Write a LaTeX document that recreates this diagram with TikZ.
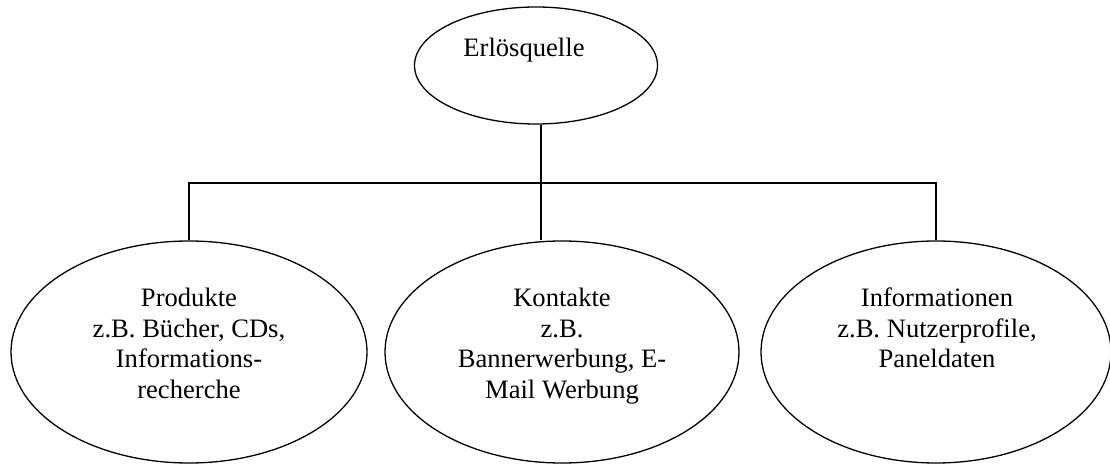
\documentclass[tikz,border=0pt]{standalone}
\usepackage{fontspec}
\setmainfont{Liberation Serif}
\usetikzlibrary{shapes.geometric}
\begin{document}
\begin{tikzpicture}[x=1bp,y=-1bp,
  oval/.style={draw=black, line width=1.3bp, ellipse, inner sep=0pt},
  lbl/.style={inner sep=0pt, align=center, anchor=base,
    font=\fontsize{26.6bp}{30.5bp}\selectfont},
  conn/.style={draw=black, line width=1.3bp}]
\useasboundingbox (0,0) rectangle (1110,475);
% ellipses
\node[oval, minimum width=243bp, minimum height=117bp] (top) at (536,65.5) {};
\node[oval, minimum width=356bp, minimum height=222bp] (left) at (189,352) {};
\node[oval, minimum width=354bp, minimum height=222bp] (mid) at (562,352) {};
\node[oval, minimum width=350bp, minimum height=222bp] (right) at (936,352) {};
% texts (base anchor = last line's baseline)
\node[lbl] (ttop) at (524,57) {Erlösquelle};
\node[lbl] (tleft) at (189,398.5) {Produkte\\z.B. Bücher, CDs,\\Informations-\\recherche};
\node[lbl] (tmid) at (562,398.5) {Kontakte\\z.B.\\Bannerwerbung, E-\\Mail Werbung};
\node[lbl] (tright) at (937,368) {Informationen\\z.B. Nutzerprofile,\\Paneldaten};
% connectors
\coordinate (j) at (541,183);
\draw[conn] (left.north) |- (j) -| (right.north);
\draw[conn] (top.south -| j) -- (j) -- (j |- mid.north);
\end{tikzpicture}
\end{document}
